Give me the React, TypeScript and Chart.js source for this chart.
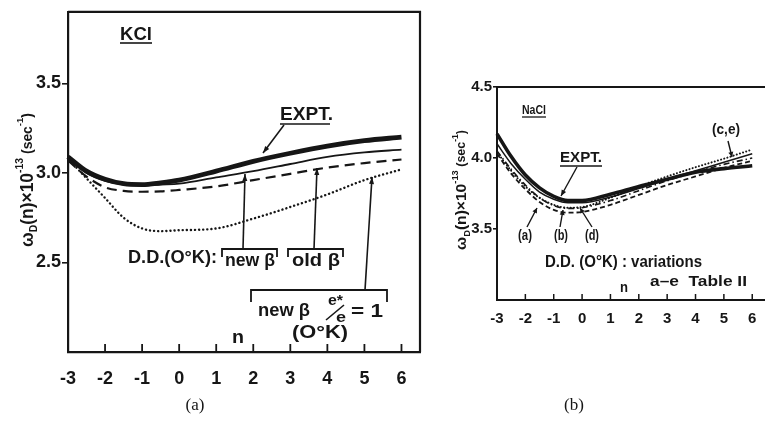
import React, { useEffect, useRef } from "react";
import { Chart, registerables } from "chart.js";
Chart.register(...registerables);

// ---------- data ----------
const nValues = [-3, -2.5, -2, -1.5, -1, -0.5, 0, 1, 2, 3, 4, 5, 6];
const xTickValues = [-3, -2, -1, 0, 1, 2, 3, 4, 5, 6];
const xTickLabels = ["-3", "-2", "-1", "0", "1", "2", "3", "4", "5", "6"];

// (a) KCl
const kclYTickValues = [2.5, 3.0, 3.5];
const kclYTickLabels = ["2.5", "3.0", "3.5"];
const kclExpt = [3.09, 3.01, 2.965, 2.94, 2.935, 2.945, 2.96, 3.01, 3.065, 3.11, 3.15, 3.18, 3.2];
const kclNewBeta = [3.08, 3.0, 2.955, 2.935, 2.93, 2.935, 2.94, 2.975, 3.01, 3.05, 3.09, 3.115, 3.13];
const kclOldBeta = [3.07, 2.98, 2.92, 2.9, 2.895, 2.897, 2.905, 2.925, 2.96, 2.995, 3.03, 3.055, 3.075];
const kclNewBetaE1 = [3.08, 2.97, 2.86, 2.75, 2.69, 2.675, 2.68, 2.69, 2.745, 2.81, 2.88, 2.96, 3.02];

// (b) NaCl
const naclYTickValues = [3.5, 4.0, 4.5];
const naclYTickLabels = ["3.5", "4.0", "4.5"];
const naclExpt = [4.17, 4.01, 3.88, 3.79, 3.73, 3.7, 3.7, 3.745, 3.8, 3.85, 3.9, 3.925, 3.945];
const naclVarThin = [4.1, 3.96, 3.85, 3.76, 3.71, 3.685, 3.685, 3.725, 3.785, 3.85, 3.91, 3.97, 4.03];
const naclVarCE = [4.04, 3.91, 3.8, 3.72, 3.67, 3.65, 3.655, 3.72, 3.8, 3.87, 3.935, 3.995, 4.06];
const naclVarB = [4.05, 3.92, 3.81, 3.72, 3.665, 3.645, 3.65, 3.7, 3.77, 3.84, 3.9, 3.955, 4.0];
const naclVarA = [4.03, 3.89, 3.78, 3.69, 3.635, 3.615, 3.62, 3.67, 3.74, 3.81, 3.87, 3.93, 3.98];

const INK = "#161616";
const FONT = "'Liberation Sans', Arial, sans-serif";
const SERIF = "'Liberation Serif', 'DejaVu Serif', serif";

// ---------- drawing helpers ----------
type Ctx = CanvasRenderingContext2D;

function fit(ctx: Ctx, s: string, x0: number, x1: number, yc: number, size: number, weight = "bold", family = FONT) {
  ctx.save();
  ctx.font = `${weight} ${size}px ${family}`;
  ctx.fillStyle = INK;
  ctx.textBaseline = "middle";
  ctx.textAlign = "left";
  const w = ctx.measureText(s).width;
  ctx.translate(x0, yc);
  ctx.scale((x1 - x0) / w, 1);
  ctx.fillText(s, 0, 0);
  ctx.restore();
}

function center(ctx: Ctx, s: string, cx: number, yc: number, size: number, weight = "bold", family = FONT) {
  ctx.save();
  ctx.font = `${weight} ${size}px ${family}`;
  ctx.fillStyle = INK;
  ctx.textBaseline = "middle";
  ctx.textAlign = "center";
  ctx.fillText(s, cx, yc);
  ctx.restore();
}

function line(ctx: Ctx, x1: number, y1: number, x2: number, y2: number, w = 1.6) {
  ctx.save();
  ctx.strokeStyle = INK;
  ctx.lineWidth = w;
  ctx.beginPath();
  ctx.moveTo(x1, y1);
  ctx.lineTo(x2, y2);
  ctx.stroke();
  ctx.restore();
}

function arrow(ctx: Ctx, x1: number, y1: number, x2: number, y2: number, w = 1.6, head = 7) {
  line(ctx, x1, y1, x2, y2, w);
  const a = Math.atan2(y2 - y1, x2 - x1);
  ctx.save();
  ctx.fillStyle = INK;
  ctx.beginPath();
  ctx.moveTo(x2, y2);
  ctx.lineTo(x2 - head * Math.cos(a) + 2.5 * Math.sin(a), y2 - head * Math.sin(a) - 2.5 * Math.cos(a));
  ctx.lineTo(x2 - head * Math.cos(a) - 2.5 * Math.sin(a), y2 - head * Math.sin(a) + 2.5 * Math.cos(a));
  ctx.closePath();
  ctx.fill();
  ctx.restore();
}

function bracket(ctx: Ctx, x1: number, x2: number, yt: number, yb: number, w = 1.8) {
  ctx.save();
  ctx.strokeStyle = INK;
  ctx.lineWidth = w;
  ctx.beginPath();
  ctx.moveTo(x1, yb);
  ctx.lineTo(x1, yt);
  ctx.lineTo(x2, yt);
  ctx.lineTo(x2, yb);
  ctx.stroke();
  ctx.restore();
}

type Part = [string, number, number];
function rotTitle(ctx: Ctx, parts: Part[], cx: number, yBottom: number, yTop: number, size: number) {
  ctx.save();
  ctx.fillStyle = INK;
  ctx.textBaseline = "middle";
  ctx.textAlign = "left";
  let total = 0;
  const widths = parts.map(([t, , s]) => {
    ctx.font = `bold ${size * s}px ${FONT}`;
    const w = ctx.measureText(t).width;
    total += w;
    return w;
  });
  const k = (yBottom - yTop) / total;
  ctx.translate(cx, yBottom);
  ctx.rotate(-Math.PI / 2);
  ctx.scale(k, 1);
  let x = 0;
  parts.forEach(([t, dy, s], i) => {
    ctx.font = `bold ${size * s}px ${FONT}`;
    ctx.fillText(t, x, dy * size);
    x += widths[i];
  });
  ctx.restore();
}

const titleParts: Part[] = [
  ["ω", 0, 1],
  ["D", 0.35, 0.6],
  ["(n)×10", 0, 1],
  ["-13", -0.42, 0.6],
  [" (sec", 0, 0.8],
  ["-1", -0.42, 0.55],
  [")", 0, 0.8],
];

function inwardTicks(chart: any, len: number, w: number) {
  const { ctx, chartArea, scales } = chart;
  const xs = scales.x;
  ctx.save();
  ctx.strokeStyle = INK;
  ctx.lineWidth = w;
  xTickValues.forEach((v) => {
    const px = xs.getPixelForValue(v);
    ctx.beginPath();
    ctx.moveTo(px, chartArea.bottom);
    ctx.lineTo(px, chartArea.bottom - len);
    ctx.stroke();
  });
  ctx.restore();
}

// ---------- plugins ----------
const kclDecor = {
  id: "kclDecor",
  afterDraw(chart: any) {
    const ctx: Ctx = chart.ctx;
    const ca = chart.chartArea;
    inwardTicks(chart, 8, 1.8);
    // box top + right
    ctx.save();
    ctx.strokeStyle = INK;
    ctx.lineWidth = 2.2;
    ctx.beginPath();
    ctx.moveTo(ca.left, ca.top);
    ctx.lineTo(ca.right, ca.top);
    ctx.lineTo(ca.right, ca.bottom);
    ctx.stroke();
    ctx.restore();

    rotTitle(ctx, titleParts, 28, 247, 113, 18);

    fit(ctx, "KCl", 120, 152, 35, 18);
    line(ctx, 120, 43, 152, 43, 1.6);

    fit(ctx, "EXPT.", 280, 333, 115, 18);
    line(ctx, 280, 124, 330, 124, 1.6);
    arrow(ctx, 284, 125, 263, 153);

    fit(ctx, "D.D.(O°K):", 128, 217, 258, 19);
    bracket(ctx, 222, 277, 249, 257);
    fit(ctx, "new β", 225, 275, 261, 19);
    bracket(ctx, 288, 343, 249, 257);
    fit(ctx, "old β", 292, 340, 261, 19);
    arrow(ctx, 243, 249, 245, 174);
    arrow(ctx, 314, 249, 317, 168);

    bracket(ctx, 251, 387, 290, 302);
    fit(ctx, "new β", 258, 310, 311, 19);
    fit(ctx, "e*", 328, 343, 301, 15);
    line(ctx, 326, 320, 344, 305, 1.6);
    fit(ctx, "e", 336, 346, 318, 15);
    fit(ctx, "= 1", 351, 383, 312, 19);
    fit(ctx, "(O°K)", 292, 348, 333, 19);
    arrow(ctx, 365, 290, 372, 177);

    fit(ctx, "n", 232, 244, 338, 19);

    center(ctx, "(a)", 195, 406, 17, "normal", SERIF);
  },
};

const OFF = 440;
const naclDecor = {
  id: "naclDecor",
  afterDraw(chart: any) {
    const ctx: Ctx = chart.ctx;
    const ca = chart.chartArea;
    inwardTicks(chart, 6, 1.5);
    ctx.save();
    ctx.strokeStyle = INK;
    ctx.lineWidth = 2;
    ctx.beginPath();
    ctx.moveTo(ca.left, ca.top);
    ctx.lineTo(ca.right, ca.top);
    ctx.stroke();
    ctx.restore();

    ctx.save();
    ctx.translate(-OFF, 0);
    rotTitle(ctx, titleParts, 462, 250, 130, 15);

    fit(ctx, "NaCl", 522, 546, 110, 13);
    line(ctx, 522, 117, 546, 117, 1.3);

    fit(ctx, "EXPT.", 560, 602, 158, 14);
    line(ctx, 560, 166, 602, 166, 1.3);
    arrow(ctx, 577, 167, 561, 196, 1.4, 6);

    fit(ctx, "(c,e)", 712, 740, 130, 14);
    arrow(ctx, 728, 141, 732, 157, 1.4, 5);

    fit(ctx, "(a)", 518, 532, 236, 14);
    fit(ctx, "(b)", 554, 568, 236, 14);
    fit(ctx, "(d)", 585, 599, 236, 14);
    arrow(ctx, 527, 227, 537, 208, 1.4, 5);
    arrow(ctx, 560, 227, 563, 210, 1.4, 5);
    arrow(ctx, 592, 227, 580, 208, 1.4, 5);

    fit(ctx, "D.D. (O°K) : variations", 545, 702, 263, 16);
    fit(ctx, "a–e  Table II", 650, 747, 282, 15);
    fit(ctx, "n", 620, 628, 288, 14);

    center(ctx, "(b)", 574, 406, 17, "normal", SERIF);
    ctx.restore();
  },
};

// ---------- chart factory ----------
function ds(data: number[], width: number, dash: number[] = [], cap: CanvasLineCap = "butt") {
  return {
    data: nValues.map((n, i) => ({ x: n, y: data[i] })),
    borderColor: INK,
    borderWidth: width,
    borderDash: dash,
    borderCapStyle: cap,
    pointRadius: 0,
    cubicInterpolationMode: "monotone" as const,
    fill: false,
    clip: 8,
  };
}

function makeOptions(p: {
  xMax: number;
  yMin: number;
  yMax: number;
  yTicks: number[];
  yLabels: string[];
  yWidth: number;
  xHeight: number;
  padTop: number;
  padRight: number;
  tickSize: number;
  xPad: number;
  yTickLen: number;
  borderW: number;
}) {
  return {
    responsive: false,
    animation: false as const,
    devicePixelRatio: 1,
    layout: { padding: { top: p.padTop, right: p.padRight, left: 0, bottom: 0 } },
    plugins: { legend: { display: false }, tooltip: { enabled: false }, title: { display: false } },
    scales: {
      x: {
        type: "linear" as const,
        min: -3,
        max: p.xMax,
        afterBuildTicks: (s: any) => {
          s.ticks = xTickValues.map((v) => ({ value: v }));
        },
        afterFit: (s: any) => {
          s.height = p.xHeight;
        },
        ticks: {
          autoSkip: false,
          maxRotation: 0,
          padding: p.xPad,
          color: INK,
          font: { family: FONT, size: p.tickSize, weight: "bold" as const },
          callback: (_v: any, i: number) => xTickLabels[i],
        },
        grid: { display: false },
        border: { display: true, color: INK, width: p.borderW },
      },
      y: {
        type: "linear" as const,
        min: p.yMin,
        max: p.yMax,
        afterBuildTicks: (s: any) => {
          s.ticks = p.yTicks.map((v) => ({ value: v }));
        },
        afterFit: (s: any) => {
          s.width = p.yWidth;
        },
        ticks: {
          autoSkip: false,
          padding: 1,
          color: INK,
          font: { family: FONT, size: p.tickSize, weight: "bold" as const },
          callback: (_v: any, i: number) => p.yLabels[i],
        },
        grid: {
          display: true,
          drawOnChartArea: false,
          drawTicks: true,
          tickLength: p.yTickLen,
          color: INK,
          lineWidth: 1.6,
        },
        border: { display: true, color: INK, width: p.borderW },
      },
    },
  };
}

export default function App() {
  const leftRef = useRef<HTMLCanvasElement>(null);
  const rightRef = useRef<HTMLCanvasElement>(null);

  useEffect(() => {
    const left = new Chart(leftRef.current!, {
      type: "line",
      data: {
        datasets: [
          ds(kclNewBetaE1, 2.4, [0.1, 4], "round"),
          ds(kclOldBeta, 2.2, [10, 6]),
          ds(kclNewBeta, 1.8),
          ds(kclExpt, 4.8),
        ],
      },
      options: makeOptions({
        xMax: 6.5,
        yMin: 2.0,
        yMax: 3.9,
        yTicks: kclYTickValues,
        yLabels: kclYTickLabels,
        yWidth: 68,
        xHeight: 69,
        padTop: 8,
        padRight: 20,
        tickSize: 18,
        xPad: 8,
        yTickLen: 6,
        borderW: 2.2,
      }) as any,
      plugins: [kclDecor],
    });

    const right = new Chart(rightRef.current!, {
      type: "line",
      data: {
        datasets: [
          ds(naclVarA, 1.8, [5, 3]),
          ds(naclVarB, 1.6, [6, 3, 1.5, 3]),
          ds(naclVarCE, 2.0, [0.1, 3.2], "round"),
          ds(naclVarThin, 1.5),
          ds(naclExpt, 3.6),
        ],
      },
      options: makeOptions({
        xMax: 6.45,
        yMin: 3.0,
        yMax: 4.5,
        yTicks: naclYTickValues,
        yLabels: naclYTickLabels,
        yWidth: 57,
        xHeight: 121,
        padTop: 87,
        padRight: 0,
        tickSize: 15,
        xPad: 2,
        yTickLen: 4,
        borderW: 2,
      }) as any,
      plugins: [naclDecor],
    });

    return () => {
      left.destroy();
      right.destroy();
    };
  }, []);

  return (
    <div style={{ position: "absolute", left: 0, top: 0, width: 765, height: 421, background: "#fff", overflow: "hidden" }}>
      <canvas ref={leftRef} width={440} height={421} style={{ position: "absolute", left: 0, top: 0, width: 440, height: 421 }} />
      <canvas ref={rightRef} width={325} height={421} style={{ position: "absolute", left: OFF, top: 0, width: 325, height: 421 }} />
    </div>
  );
}
